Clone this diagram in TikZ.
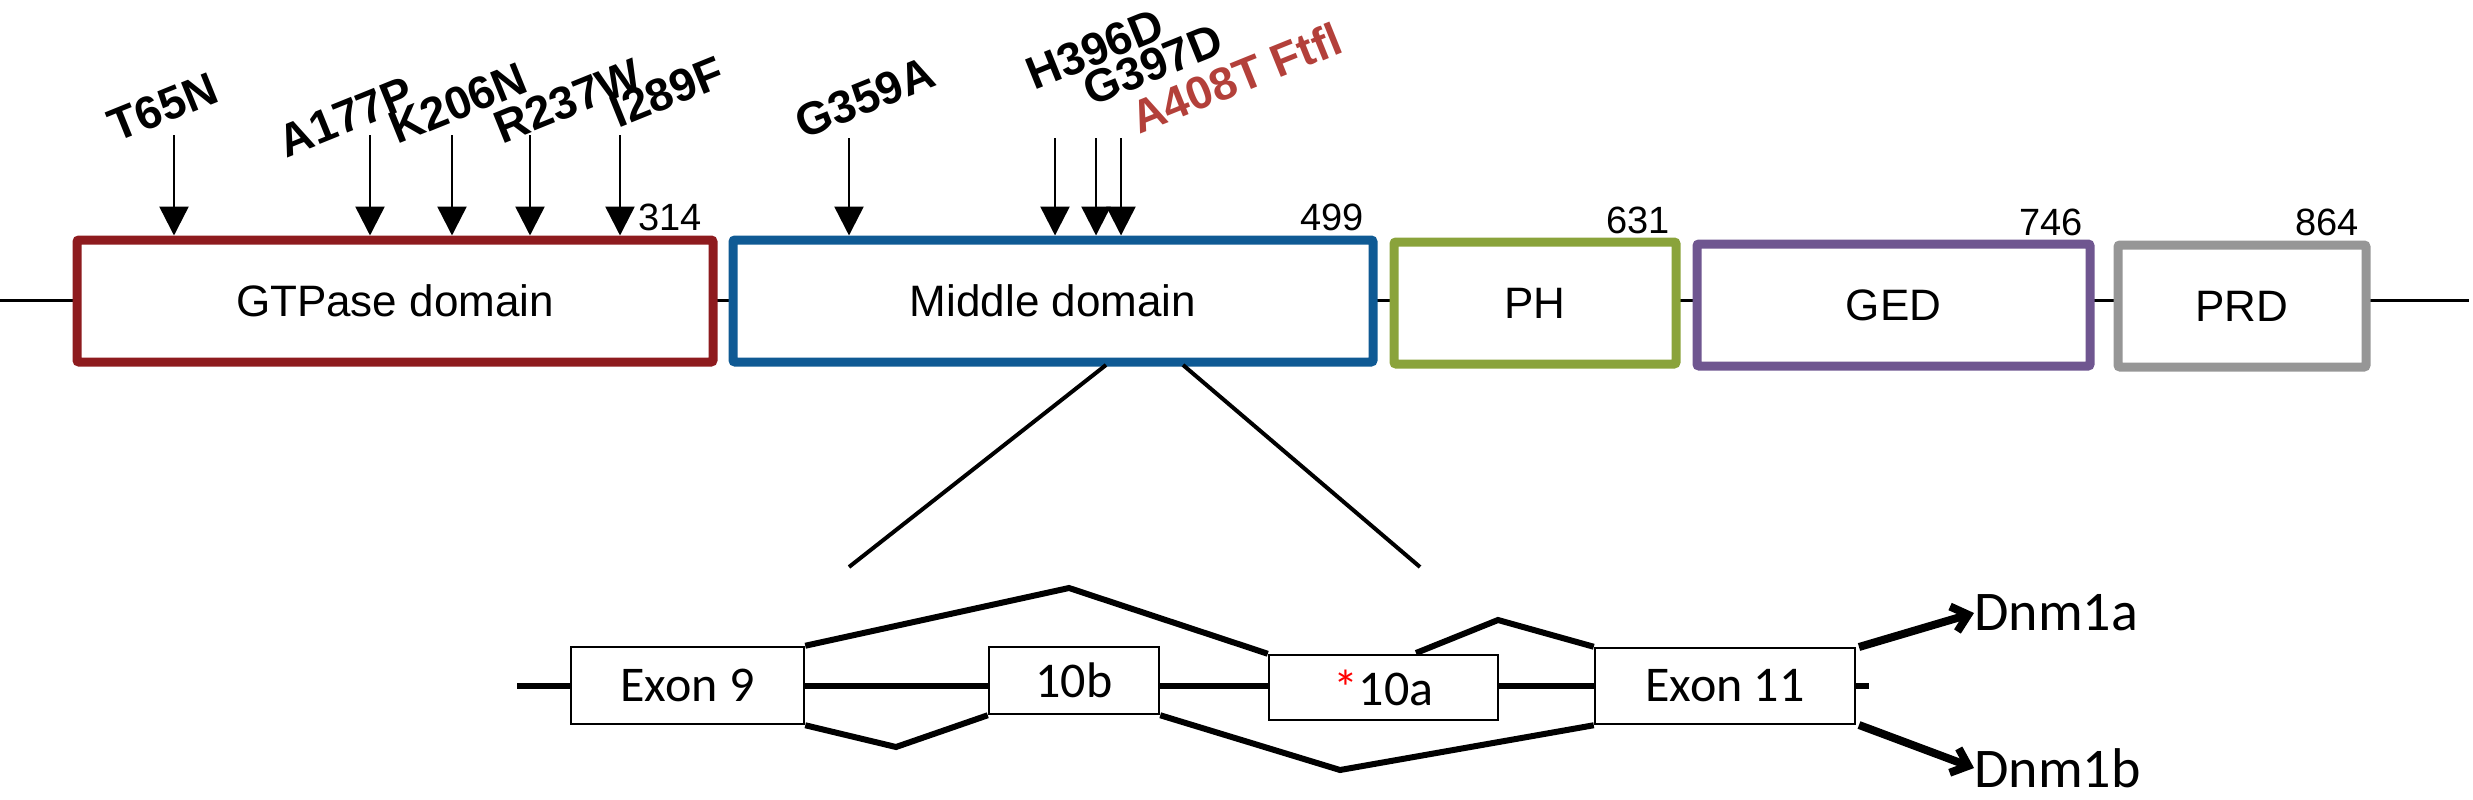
\documentclass[tikz,border=0pt]{standalone}
\usepackage{fontspec}
\setmainfont{Liberation Sans}
\newfontfamily\calib{Carlito}
\usetikzlibrary{arrows.meta}
\definecolor{cgtp}{HTML}{8E1B1E}
\definecolor{cmid}{HTML}{0F5A94}
\definecolor{cph}{HTML}{8AA33B}
\definecolor{cged}{HTML}{6F5690}
\definecolor{cprd}{HTML}{969696}
\definecolor{cmut}{HTML}{B3403A}
\begin{document}
\begin{tikzpicture}[x=1pt,y=-1pt,
  dom/.style={draw, line width=9pt, rounded corners=2pt, fill=white, minimum height=122pt, inner sep=0pt, font=\fontsize{44}{50}\selectfont},
  num/.style={font=\fontsize{38}{42}\selectfont, inner sep=0pt},
  mut/.style={font=\fontsize{46}{50}\selectfont\bfseries, rotate=22, inner sep=0pt},
  marr/.style={line width=2.5pt, -{Triangle[width=29pt,length=29pt]}},
  exon/.style={draw, line width=2.5pt, fill=white, inner sep=0pt, font=\calib\fontsize{50}{54}\selectfont},
  spl/.style={line width=6pt, line join=miter},
  iso/.style={line width=8pt, -{Straight Barb[width=26pt,length=15pt,line width=8pt]}},
  iso label/.style={font=\calib\fontsize{56}{60}\selectfont, inner sep=0pt, anchor=west}]
\useasboundingbox (0,0) rectangle (2473,800);
% backbone
\coordinate (bb0) at (0,300);
\coordinate (bb1) at (2469,300);
\draw[line width=3pt] (bb0) -- (bb1);
% domains
\node[dom, draw=cgtp, minimum width=636pt] (gtp) at (395,301) {GTPase domain};
\node[dom, draw=cmid, minimum width=640pt] (mid) at (1053,301) {Middle domain};
\node[dom, draw=cph, minimum width=282pt] (ph) at (1535,303) {PH};
\node[dom, draw=cged, minimum width=393pt] (ged) at (1893.5,305) {GED};
\node[dom, draw=cprd, minimum width=248pt] (prd) at (2242,306) {PRD};
% numbers
\node[num] (n314) at (670,217) {314};
\node[num] (n499) at (1332,217) {499};
\node[num] (n631) at (1638,220) {631};
\node[num] (n746) at (2051,222) {746};
\node[num] (n864) at (2327,222) {864};
% mutation labels
\node[mut] (l1) at (163,107) {T65N};
\node[mut] (l2) at (346,117) {A177P};
\node[mut] (l3) at (458,103) {K206N};
\node[mut] (l4) at (568,101) {R237W};
\node[mut] (l5) at (667,92) {I289F};
\node[mut] (l6) at (865,98) {G359A};
\node[mut] (l7) at (1095,49) {H396D};
\node[mut] (l8) at (1153,65) {G397D};
\node[mut, text=cmut] (l9) at (1236,78) {A408T Ftfl};
% arrows
\foreach \n/\x/\y/\t in {1/174/135/gtp,2/370/135/gtp,3/452/135/gtp,4/530/135/gtp,5/620/135/gtp,6/849/138/mid,7/1055/138/mid,8/1096/138/mid,9/1121/138/mid}{
  \coordinate (a\n) at (\x,\y);
  \draw[marr] (a\n) -- (a\n |- \t.north);
}
% zoom lines
\coordinate (z1) at (1106,365);
\coordinate (z2) at (1183,365);
\coordinate (z3) at (849,567);
\coordinate (z4) at (1420,567);
\draw[line width=4pt] (z1) -- (z3);
\draw[line width=4pt] (z2) -- (z4);
% exon structure
\coordinate (eb0) at (517,686);
\coordinate (eb1) at (1869,686);
\draw[line width=6pt] (eb0) -- (eb1);
\node[exon, minimum width=233pt, minimum height=77pt] (e9) at (687.5,685.5) {Exon 9};
\node[exon, minimum width=170pt, minimum height=67pt] (e10b) at (1074,680.5) {10b};
\node[exon, minimum width=229pt, minimum height=65pt] (e10a) at (1383.5,687.5) {\textcolor{red}{*}10a};
\node[exon, minimum width=260pt, minimum height=76pt] (e11) at (1725,686) {Exon 11};
\coordinate (p1) at (1069,588);
\coordinate (p2) at (1416,653);
\coordinate (p3) at (1498,620);
\coordinate (p4) at (896,747);
\coordinate (p5) at (1340,770);
\draw[spl] (e9.north east) -- (p1) -- (e10a.north west);
\draw[spl] (p2) -- (p3) -- (e11.north west);
\draw[spl] (e9.south east) -- (p4) -- (e10b.south west);
\draw[spl] (e10b.south east) -- (p5) -- (e11.south west);
% isoforms
\node[iso label] (da) at (1974,613) {Dnm1a};
\node[iso label] (db) at (1974,768) {Dnm1b};
\coordinate (s1) at (1859,647);
\coordinate (s2) at (1859,725);
\draw[iso] (s1) -- (da.west);
\draw[iso] (s2) -- (db.west);
\end{tikzpicture}
\end{document}
